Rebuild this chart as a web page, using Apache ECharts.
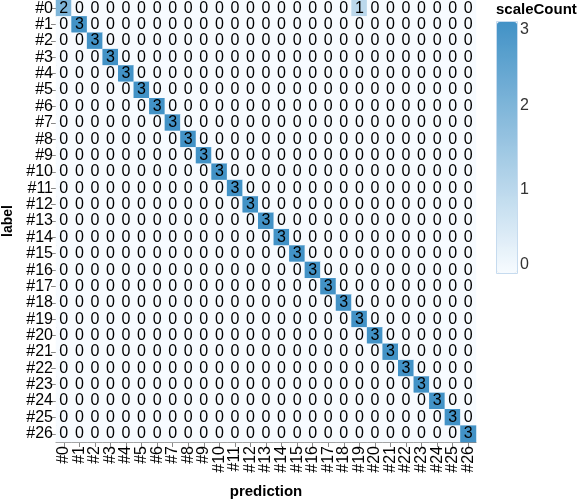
<!DOCTYPE html>
<html>
<head>
<meta charset="utf-8">
<script src="https://cdn.jsdelivr.net/npm/echarts@6/dist/echarts.min.js"></script>
<style>
html,body{margin:0;padding:0;background:#fff;}
#chart{width:578px;height:500px;}
</style>
</head>
<body>
<div id="chart"></div>
<script>
// categories (labels and predictions share the same classes)
const labels = ["#0","#1","#2","#3","#4","#5","#6","#7","#8","#9","#10","#11","#12","#13","#14","#15","#16","#17","#18","#19","#20","#21","#22","#23","#24","#25","#26"];
const predictions = labels.slice();
// non-zero confusion counts: [label, prediction, count]
const nonZero = [
  ["#0","#0",2],["#0","#19",1],
  ["#1","#1",3],["#2","#2",3],["#3","#3",3],["#4","#4",3],["#5","#5",3],
  ["#6","#6",3],["#7","#7",3],["#8","#8",3],["#9","#9",3],["#10","#10",3],
  ["#11","#11",3],["#12","#12",3],["#13","#13",3],["#14","#14",3],["#15","#15",3],
  ["#16","#16",3],["#17","#17",3],["#18","#18",3],["#19","#19",3],["#20","#20",3],
  ["#21","#21",3],["#22","#22",3],["#23","#23",3],["#24","#24",3],["#25","#25",3],
  ["#26","#26",3]
];
const legendTicks = [0,1,2,3];

const lookup = {};
nonZero.forEach(([l,p,c]) => { lookup[l + "|" + p] = c; });
const data = [];
labels.forEach((l, yi) => {
  predictions.forEach((p, xi) => {
    data.push([xi, yi, lookup[l + "|" + p] || 0]);
  });
});

const FONT = "Arial";
const chart = echarts.init(document.getElementById('chart'));

const barTop = 22, barH = 251, barLeft = 497, barW = 20;
const graphics = [
  {type:'text', left:496, top:2, style:{text:'scaleCount', font:'bold 15px ' + FONT, fill:'#000'}},
  {type:'rect', shape:{x: barLeft - 0.5, y: barTop - 0.5, width: barW + 1, height: barH + 1}, style:{fill:'none', stroke:'#c6dbef', lineWidth:1}, z: 100}
];
legendTicks.forEach(v => {
  const y = barTop + barH * (1 - v / 3);
  graphics.push({type:'text', x: barLeft + barW + 3, y: y, style:{text:String(v), font:'16px ' + FONT, fill:'#333', textVerticalAlign: v === 3 ? 'top' : (v === 0 ? 'bottom' : 'middle')}});
});

chart.setOption({
  animation: false,
  textStyle: {fontFamily: FONT},
  grid: {left: 56, top: 0, width: 420, height: 442, containLabel: false, outerBoundsMode: 'none'},
  xAxis: {
    type: 'category', data: predictions,
    name: 'prediction', nameLocation: 'middle', nameGap: 42,
    nameTextStyle: {fontWeight: 'bold', fontSize: 15, color: '#000', fontFamily: FONT},
    axisLine: {show: true, lineStyle: {color: '#888'}},
    axisTick: {show: true, alignWithLabel: true, length: 5, lineStyle: {color: '#888'}},
    axisLabel: {rotate: 90, fontSize: 16, color: '#000', margin: 4, interval: 0, fontFamily: FONT},
    splitLine: {show: false}
  },
  yAxis: {
    type: 'category', data: labels, inverse: true,
    name: 'label', nameLocation: 'middle', nameGap: 41, nameRotate: 90,
    nameTextStyle: {fontWeight: 'bold', fontSize: 14, color: '#000', fontFamily: FONT},
    axisLine: {show: true, lineStyle: {color: '#888'}},
    axisTick: {show: true, alignWithLabel: true, length: 5, lineStyle: {color: '#888'}},
    axisLabel: {fontSize: 16, color: '#000', margin: 3, interval: 0, fontFamily: FONT},
    splitLine: {show: false}
  },
  visualMap: {
    type: 'continuous', min: 0, max: 3, calculable: false,
    orient: 'vertical', left: barLeft, top: barTop,
    itemWidth: barW, itemHeight: barH, padding: 0,
    text: null, showLabel: false,
    inRange: {color: ['#f7fbff', '#4292c6']}
  },
  graphic: graphics,
  series: [{
    type: 'heatmap',
    data: data,
    label: {show: true, color: '#000', fontSize: 16, fontFamily: FONT},
    itemStyle: {borderWidth: 0},
    emphasis: {disabled: true}
  }]
});
</script>
</body>
</html>
